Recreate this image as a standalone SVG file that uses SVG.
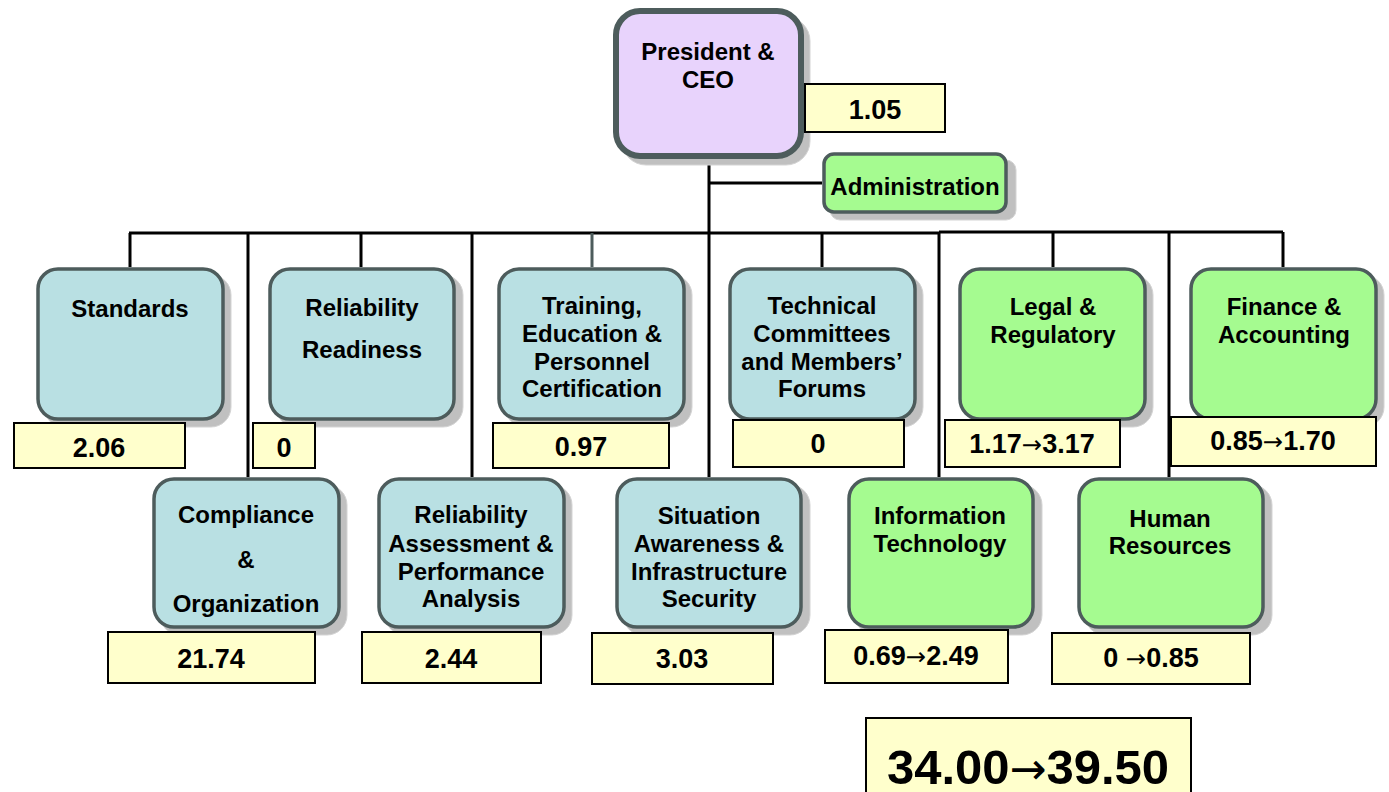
<svg xmlns="http://www.w3.org/2000/svg" width="1389" height="792" viewBox="0 0 1389 792">
<style>
.shadow{fill:#c0c0c0;stroke:#d4d4d4;stroke-width:1}
.blue{fill:#b9e0e3;stroke:#4d5c5c;stroke-width:3.5}
.green{fill:#a5fb90;stroke:#4d5c5c;stroke-width:3.5}
.purple{fill:#e8d3fc;stroke:#4d5c5c;stroke-width:6}
.val{fill:#ffffcc;stroke:#000;stroke-width:2}
.t{font-family:"Liberation Sans",Arial,Helvetica,sans-serif;font-weight:bold;font-size:24px;text-anchor:middle;fill:#000}
.v{font-family:"Liberation Sans",Arial,Helvetica,sans-serif;font-weight:bold;font-size:27px;text-anchor:middle;fill:#000}
.ar{font-family:"DejaVu Sans",sans-serif;font-weight:normal;font-size:0.9em}
.ln{stroke:#000;stroke-width:3;fill:none}
</style>
<rect width="1389" height="792" fill="#fff"/>
<g id="connectors">
<path class="ln" d="M709 159V477M709 183H822M129 233H939"/>
<path class="ln" d="M939 232H1283"/>
<path class="ln" d="M130 233V267M248 233V477M361 233V267M472 233V477M822 233V267M939 232V477M1053 232V267M1169 232V477M1283 232V267"/>
<path d="M592 233V267" stroke="#4d5c5c" stroke-width="3"/>
</g>
<g id="ceo">
<rect class="shadow" x="622" y="17" width="188" height="148" rx="24"/>
<rect class="purple" x="616" y="11" width="185" height="145" rx="24"/>
<text class="t" x="708" y="60">President &amp;</text>
<text class="t" x="708" y="88">CEO</text>
<rect class="val" x="805" y="84" width="140" height="48"/>
<text class="v" x="875" y="119">1.05</text>
</g>
<g id="administration">
<rect class="shadow" x="830" y="160" width="186" height="60" rx="10"/>
<rect class="green" x="824" y="154" width="182" height="58" rx="10"/>
<text class="t" x="915" y="195">Administration</text>
</g>
<g id="standards">
<rect class="shadow" x="44" y="275" width="187" height="152" rx="20"/>
<rect class="blue" x="38" y="269" width="185" height="150" rx="20"/>
<text class="t" x="130" y="317">Standards</text>
<rect class="val" x="14" y="423" width="171" height="45"/>
<text class="v" x="99" y="457">2.06</text>
</g>
<g id="reliability-readiness">
<rect class="shadow" x="276" y="275" width="187" height="152" rx="20"/>
<rect class="blue" x="270" y="269" width="184" height="150" rx="20"/>
<text class="t" x="362" y="316">Reliability</text>
<text class="t" x="362" y="358">Readiness</text>
<rect class="val" x="253" y="423" width="62" height="45"/>
<text class="v" x="284" y="457">0</text>
</g>
<g id="training">
<rect class="shadow" x="505" y="275" width="187" height="152" rx="20"/>
<rect class="blue" x="499" y="269" width="185" height="150" rx="20"/>
<text class="t" x="592" y="314">Training,</text>
<text class="t" x="592" y="342">Education &amp;</text>
<text class="t" x="592" y="370">Personnel</text>
<text class="t" x="592" y="397">Certification</text>
<rect class="val" x="493" y="423" width="176" height="45"/>
<text class="v" x="581" y="456">0.97</text>
</g>
<g id="technical-committees">
<rect class="shadow" x="736" y="275" width="187" height="152" rx="20"/>
<rect class="blue" x="730" y="269" width="185" height="150" rx="20"/>
<text class="t" x="822" y="314">Technical</text>
<text class="t" x="822" y="342">Committees</text>
<text class="t" x="822" y="370">and Members’</text>
<text class="t" x="822" y="397">Forums</text>
<rect class="val" x="733" y="420" width="171" height="47"/>
<text class="v" x="818" y="453">0</text>
</g>
<g id="legal-regulatory">
<rect class="shadow" x="966" y="275" width="187" height="152" rx="20"/>
<rect class="green" x="960" y="269" width="185" height="150" rx="20"/>
<text class="t" x="1053" y="315">Legal &amp;</text>
<text class="t" x="1053" y="343">Regulatory</text>
<rect class="val" x="945" y="420" width="175" height="47"/>
<text class="v" x="1032" y="453">1.17<tspan class="ar">→</tspan>3.17</text>
</g>
<g id="finance-accounting">
<rect class="shadow" x="1197" y="275" width="187" height="152" rx="20"/>
<rect class="green" x="1191" y="269" width="185" height="150" rx="20"/>
<text class="t" x="1284" y="315">Finance &amp;</text>
<text class="t" x="1284" y="343">Accounting</text>
<rect class="val" x="1171" y="417" width="205" height="49"/>
<text class="v" x="1273" y="450">0.85<tspan class="ar">→</tspan>1.70</text>
</g>
<g id="compliance">
<rect class="shadow" x="160" y="485" width="187" height="150" rx="20"/>
<rect class="blue" x="154" y="479" width="185" height="148" rx="20"/>
<text class="t" x="246" y="523">Compliance</text>
<text class="t" x="246" y="568">&amp;</text>
<text class="t" x="246" y="612">Organization</text>
<rect class="val" x="108" y="632" width="207" height="51"/>
<text class="v" x="211" y="668">21.74</text>
</g>
<g id="reliability-assessment">
<rect class="shadow" x="385" y="485" width="187" height="150" rx="20"/>
<rect class="blue" x="379" y="479" width="185" height="148" rx="20"/>
<text class="t" x="471" y="523">Reliability</text>
<text class="t" x="471" y="552">Assessment &amp;</text>
<text class="t" x="471" y="580">Performance</text>
<text class="t" x="471" y="607">Analysis</text>
<rect class="val" x="362" y="632" width="179" height="51"/>
<text class="v" x="451" y="668">2.44</text>
</g>
<g id="situation-awareness">
<rect class="shadow" x="623" y="485" width="187" height="150" rx="20"/>
<rect class="blue" x="617" y="479" width="184" height="148" rx="20"/>
<text class="t" x="709" y="524">Situation</text>
<text class="t" x="709" y="552">Awareness &amp;</text>
<text class="t" x="709" y="580">Infrastructure</text>
<text class="t" x="709" y="607">Security</text>
<rect class="val" x="592" y="633" width="181" height="51"/>
<text class="v" x="682" y="668">3.03</text>
</g>
<g id="information-technology">
<rect class="shadow" x="855" y="485" width="187" height="150" rx="20"/>
<rect class="green" x="849" y="479" width="184" height="148" rx="20"/>
<text class="t" x="940" y="524">Information</text>
<text class="t" x="940" y="552">Technology</text>
<rect class="val" x="825" y="630" width="183" height="53"/>
<text class="v" x="916" y="665">0.69<tspan class="ar">→</tspan>2.49</text>
</g>
<g id="human-resources">
<rect class="shadow" x="1085" y="485" width="187" height="150" rx="20"/>
<rect class="green" x="1079" y="479" width="184" height="148" rx="20"/>
<text class="t" x="1170" y="527">Human</text>
<text class="t" x="1170" y="554">Resources</text>
<rect class="val" x="1052" y="633" width="198" height="51"/>
<text class="v" x="1151" y="667">0 <tspan class="ar">→</tspan>0.85</text>
</g>
<g id="total">
<rect class="val" x="866" y="718" width="325" height="90"/>
<text class="v" x="1028" y="784" style="font-size:49px">34.00<tspan class="ar">→</tspan>39.50</text>
</g>
</svg>
